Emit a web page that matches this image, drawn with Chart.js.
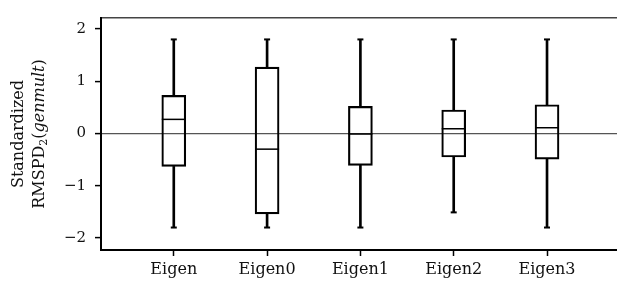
<!DOCTYPE html>
<html>
<head>
<meta charset="utf-8">
<script src="https://cdn.jsdelivr.net/npm/chart.js@4"></script>
<style>
  html, body { margin: 0; padding: 0; background: #fff; }
  #wrap { width: 617px; height: 283px; }
</style>
</head>
<body>
<div id="wrap"><canvas id="box"></canvas></div>
<script>
const categories = ["Eigen", "Eigen0", "Eigen1", "Eigen2", "Eigen3"];
const whiskerLow = [-1.80, -1.80, -1.80, -1.51, -1.80];
const q1 = [-0.63, -1.54, -0.61, -0.45, -0.49];
const medians = [0.27, -0.30, -0.01, 0.09, 0.11];
const q3 = [0.73, 1.27, 0.52, 0.45, 0.55];
const whiskerHigh = [1.80, 1.80, 1.80, 1.80, 1.80];
const yTicks = [-2, -1, 0, 1, 2];

const serif = "DejaVu Serif";

const lowerWhiskers = categories.map((c, i) => ({x: i, y: [whiskerLow[i], q1[i]]}));
const upperWhiskers = categories.map((c, i) => ({x: i, y: [q3[i], whiskerHigh[i]]}));
const boxes = categories.map((c, i) => ({x: i, y: [q1[i], q3[i]]}));
const medianPts = categories.map((c, i) => ({x: i, y: medians[i]}));
const capPts = categories.map((c, i) => ({x: i, y: whiskerLow[i]}))
    .concat(categories.map((c, i) => ({x: i, y: whiskerHigh[i]})));

// y axis title, two lines, with subscript and italic part
const yTitle = {
    id: "yTitle",
    afterDraw(chart) {
        const ctx = chart.ctx;
        const lines = [
            {x: 19, parts: [{t: "Standardized", f: "16px " + serif, dy: 0}]},
            {x: 40, parts: [
                {t: "RMSPD", f: "16px " + serif, dy: 0},
                {t: "2", f: "11px " + serif, dy: 4},
                {t: "(", f: "16px " + serif, dy: 0},
                {t: "genmult", f: "italic 16px " + serif, dy: 0},
                {t: ")", f: "16px " + serif, dy: 0}
            ]}
        ];
        ctx.save();
        ctx.fillStyle = "#111";
        ctx.textBaseline = "middle";
        lines.forEach(line => {
            let total = 0;
            line.parts.forEach(p => { ctx.font = p.f; total += ctx.measureText(p.t).width; });
            ctx.save();
            ctx.translate(line.x, 134);
            ctx.rotate(-Math.PI / 2);
            let pos = -total / 2;
            line.parts.forEach(p => {
                ctx.font = p.f;
                ctx.fillText(p.t, pos, p.dy);
                pos += ctx.measureText(p.t).width;
            });
            ctx.restore();
        });
        ctx.restore();
    }
};

new Chart("box", {
    type: "bar",
    data: {
        datasets: [
            {
                data: boxes,
                backgroundColor: "rgba(0,0,0,0)",
                borderColor: "#000",
                borderWidth: 1.5,
                borderSkipped: false,
                barThickness: 24,
                grouped: false,
                order: 1
            },
            {
                data: lowerWhiskers,
                backgroundColor: "#000",
                borderWidth: 0,
                barThickness: 2,
                grouped: false,
                order: 2
            },
            {
                data: upperWhiskers,
                backgroundColor: "#000",
                borderWidth: 0,
                barThickness: 2,
                grouped: false,
                order: 2
            },
            {
                type: "line",
                data: medianPts,
                showLine: false,
                pointStyle: "line",
                radius: 12,
                borderWidth: 1.5,
                borderColor: "#000",
                order: 0
            },
            {
                type: "line",
                data: capPts,
                showLine: false,
                pointStyle: "line",
                radius: 3,
                borderWidth: 2,
                borderColor: "#000",
                order: 0
            }
        ]
    },
    options: {
        responsive: true,
        maintainAspectRatio: false,
        animation: false,
        events: [],
        layout: {autoPadding: false, padding: 0},
        plugins: {
            legend: {display: false},
            tooltip: {enabled: false},
            title: {display: false}
        },
        scales: {
            x: {
                type: "linear",
                position: "bottom",
                offset: false,
                min: -0.78,
                max: 4.75,
                afterBuildTicks: s => { s.ticks = categories.map((c, i) => ({value: i})); },
                afterFit: s => { s.height = 33; },
                ticks: {
                    callback: v => categories[v],
                    color: "#111",
                    font: {family: serif, size: 16},
                    padding: 4,
                    maxRotation: 0,
                    autoSkip: false
                },
                grid: {offset: false, drawOnChartArea: false, drawTicks: true, tickLength: 6, tickColor: "#000", tickWidth: 1.5},
                border: {display: true, color: "#000", width: 2}
            },
            top: {
                type: "linear",
                position: "top",
                offset: false,
                afterFit: s => { s.height = 13; },
                ticks: {display: false},
                grid: {display: false},
                border: {display: true, color: "#444", width: 1.5}
            },
            y: {
                min: -2.23,
                max: 2.21,
                afterBuildTicks: s => { s.ticks = yTicks.map(v => ({value: v})); },
                afterFit: s => { s.width = 101; },
                ticks: {
                    callback: v => String(v).replace("-", "\u2212"),
                    color: "#111",
                    font: {family: serif, size: 15},
                    padding: 9
                },
                grid: {
                    color: c => (c.tick && c.tick.value === 0) ? "#555" : "rgba(0,0,0,0)",
                    lineWidth: 1.2,
                    drawTicks: true,
                    tickLength: 6,
                    tickColor: "#000",
                    tickWidth: 1.5
                },
                border: {display: true, color: "#000", width: 2}
            }
        }
    },
    plugins: [yTitle]
});
</script>
</body>
</html>
